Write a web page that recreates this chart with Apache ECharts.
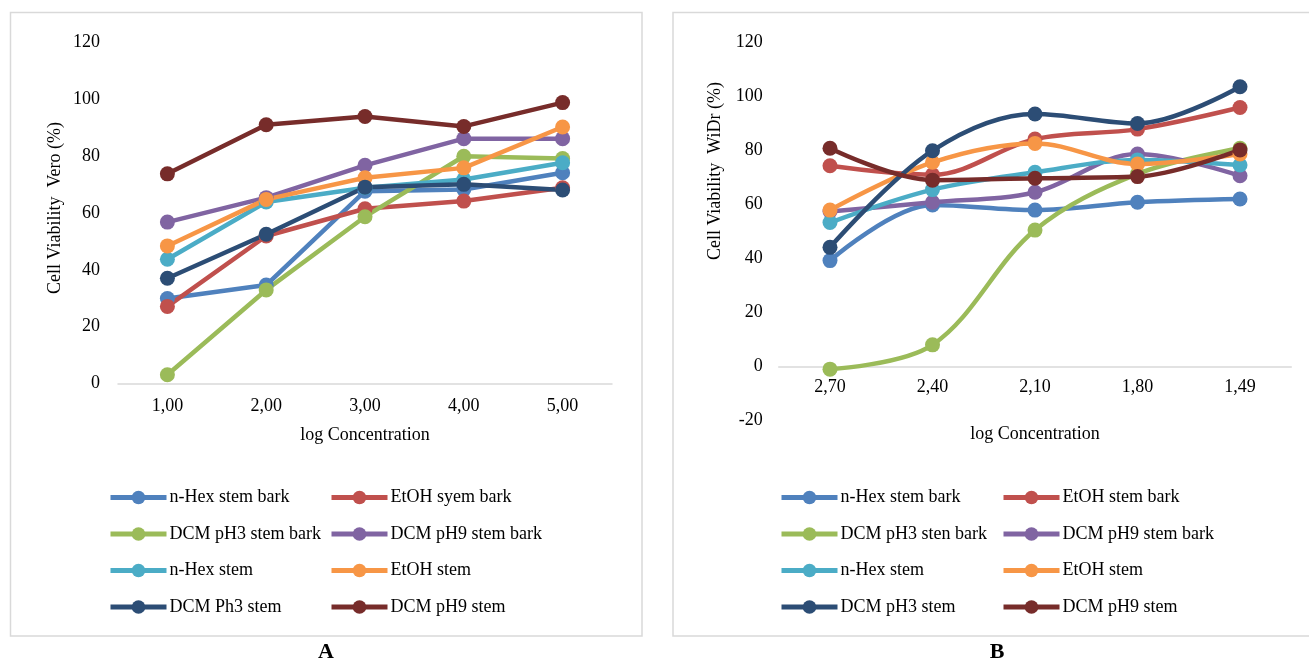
<!DOCTYPE html>
<html>
<head>
<meta charset="utf-8">
<script src="https://cdn.jsdelivr.net/npm/echarts@6/dist/echarts.min.js"></script>
<style>
html,body{margin:0;padding:0;background:#fff;}
#c{width:1309px;height:661px;}
</style>
</head>
<body>
<div id="c"></div>
<script>
// ---- Chart A (Vero) ----
const catsA = ['1,00', '2,00', '3,00', '4,00', '5,00'];
const namesA = ['n-Hex stem bark', 'EtOH syem bark', 'DCM pH3 stem bark', 'DCM pH9 stem bark',
                'n-Hex stem', 'EtOH stem', 'DCM Ph3 stem', 'DCM pH9 stem'];
const aHexBark   = [29.9, 34.6, 67.7, 68.3, 74.2];
const aEtohBark  = [27.1, 51.9, 61.5, 64.2, 68.9];
const aDcm3Bark  = [3.0, 32.9, 58.7, 80.0, 79.2];
const aDcm9Bark  = [56.8, 65.4, 76.8, 86.2, 86.2];
const aHexStem   = [43.7, 63.9, 68.9, 71.8, 77.7];
const aEtohStem  = [48.4, 64.8, 72.4, 75.9, 90.3];
const aDcm3Stem  = [37.0, 52.5, 69.1, 70.1, 68.1];
const aDcm9Stem  = [73.8, 91.1, 94.0, 90.5, 98.9];

// ---- Chart B (WiDr) ----
const catsB = ['2,70', '2,40', '2,10', '1,80', '1,49'];
const namesB = ['n-Hex stem bark ', 'EtOH stem bark', 'DCM pH3 sten bark', 'DCM pH9 stem bark ',
                'n-Hex stem ', 'EtOH stem ', 'DCM pH3 stem', 'DCM pH9 stem '];
const bHexBark   = [39.3, 59.9, 58.0, 60.9, 62.1];
const bEtohBark  = [74.4, 71.1, 84.3, 88.0, 96.0];
const bDcm3Bark  = [-0.9, 8.1, 50.6, 71.4, 80.9];
const bDcm9Bark  = [57.5, 60.9, 64.6, 78.8, 70.7];
const bHexStem   = [53.4, 65.6, 72.0, 76.6, 74.7];
const bEtohStem  = [58.0, 75.7, 82.7, 75.1, 78.8];
const bDcm3Stem  = [44.2, 80.0, 93.6, 90.1, 103.7];
const bDcm9Stem  = [80.9, 69.1, 69.8, 70.4, 80.3];

const yTicks = { minA: 0, maxA: 120, minB: -20, maxB: 120, step: 20 };

const colors = ['#4F81BD', '#C0504D', '#9BBB59', '#8064A2', '#4BACC6', '#F79646', '#2C4D75', '#772C2A'];
const dataA = [aHexBark, aEtohBark, aDcm3Bark, aDcm9Bark, aHexStem, aEtohStem, aDcm3Stem, aDcm9Stem];
const dataB = [bHexBark, bEtohBark, bDcm3Bark, bDcm9Bark, bHexStem, bEtohStem, bDcm3Stem, bDcm9Stem];

const FONT = '"Liberation Serif", "Times New Roman", serif';
const txt = { fontFamily: FONT, fontSize: 18, color: '#000' };

function mkSeries(names, data, idx, smooth) {
  return names.map((n, i) => ({
    name: n, type: 'line', xAxisIndex: idx, yAxisIndex: idx,
    data: data[i], smooth: smooth,
    symbol: 'circle', symbolSize: 15,
    lineStyle: { width: 4.5, color: colors[i] },
    itemStyle: { color: colors[i] },
    emphasis: { disabled: true },
    animation: false
  }));
}

function mkLegend(names, left, top) {
  return {
    orient: 'vertical', left: left, top: top, padding: 0,
    data: names, itemWidth: 56, itemHeight: 17, itemGap: 18.5,
    selectedMode: false,
    textStyle: { fontFamily: FONT, fontSize: 18, color: '#000', padding: [0, 0, 0, -2] },
    lineStyle: { width: 5 }
  };
}

const chart = echarts.init(document.getElementById('c'), null, { renderer: 'canvas' });
chart.setOption({
  backgroundColor: '#fff',
  animation: false,
  grid: [
    { left: 118, top: 42.7, width: 494, height: 340.6 },
    { left: 778.75, top: 42.7, width: 512.5, height: 378 }
  ],
  xAxis: [
    { type: 'category', gridIndex: 0, data: catsA, boundaryGap: true,
      axisLine: { lineStyle: { color: '#d9d9d9', width: 1.5 } }, axisTick: { show: false },
      axisLabel: Object.assign({ margin: 14 }, txt),
      name: 'log Concentration', nameLocation: 'middle', nameGap: 43, nameTextStyle: txt },
    { type: 'category', gridIndex: 1, data: catsB, boundaryGap: true,
      axisLine: { onZero: true, lineStyle: { color: '#d9d9d9', width: 1.5 } }, axisTick: { show: false },
      axisLabel: Object.assign({ margin: -42 }, txt),
      name: 'log Concentration', nameLocation: 'middle', nameGap: 5, nameTextStyle: txt }
  ],
  yAxis: [
    { type: 'value', gridIndex: 0, min: yTicks.minA, max: yTicks.maxA, interval: yTicks.step,
      axisLine: { show: false }, axisTick: { show: false }, splitLine: { show: false },
      axisLabel: Object.assign({ margin: 18 }, txt) },
    { type: 'value', gridIndex: 1, min: yTicks.minB, max: yTicks.maxB, interval: yTicks.step,
      axisLine: { show: false }, axisTick: { show: false }, splitLine: { show: false },
      axisLabel: Object.assign({ margin: 16 }, txt) }
  ],
  legend: [
    mkLegend([namesA[0], namesA[2], namesA[4], namesA[6]], 108, 488.5),
    mkLegend([namesA[1], namesA[3], namesA[5], namesA[7]], 329, 488.5),
    mkLegend([namesB[0], namesB[2], namesB[4], namesB[6]], 779, 488.5),
    mkLegend([namesB[1], namesB[3], namesB[5], namesB[7]], 1001, 488.5)
  ],
  graphic: [
    { type: 'rect', shape: { x: 10.5, y: 12.5, width: 631.5, height: 623.5 },
      style: { fill: 'none', stroke: '#d9d9d9', lineWidth: 1.5 }, z: -10 },
    { type: 'rect', shape: { x: 673, y: 12.5, width: 660, height: 623.5 },
      style: { fill: 'none', stroke: '#d9d9d9', lineWidth: 1.5 }, z: -10 },
    { type: 'text', x: 55, y: 208, rotation: Math.PI / 2,
      style: { text: 'Cell Viability  Vero (%)', font: '18px "Liberation Serif"', fill: '#000',
               textAlign: 'center', textVerticalAlign: 'middle' } },
    { type: 'text', x: 715, y: 171, rotation: Math.PI / 2,
      style: { text: 'Cell Viability  WiDr (%)', font: '18px "Liberation Serif"', fill: '#000',
               textAlign: 'center', textVerticalAlign: 'middle' } },
    { type: 'text', x: 326, y: 652,
      style: { text: 'A', font: 'bold 22px "Liberation Serif"', fill: '#000',
               textAlign: 'center', textVerticalAlign: 'middle' } },
    { type: 'text', x: 997, y: 652,
      style: { text: 'B', font: 'bold 22px "Liberation Serif"', fill: '#000',
               textAlign: 'center', textVerticalAlign: 'middle' } }
  ],
  series: mkSeries(namesA, dataA, 0, false).concat(mkSeries(namesB, dataB, 1, 0.35))
});
</script>
</body>
</html>
